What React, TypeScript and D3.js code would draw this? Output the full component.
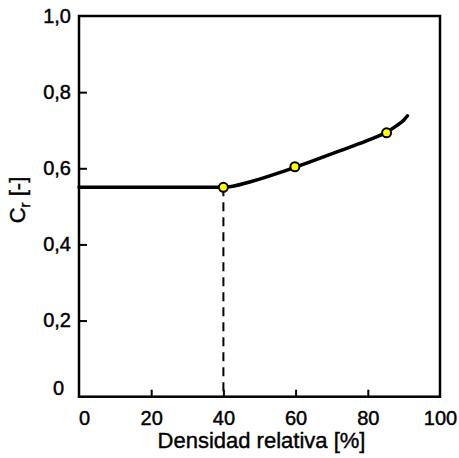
import React, { useRef, useEffect } from 'react';
import * as d3 from 'd3';

// fitted curve: flat part, then rising part
const curveX = [0, 40, 48, 56, 64, 72, 78, 82, 85.2, 88, 90, 91];
const curveY = [0.55, 0.55, 0.566, 0.59, 0.617, 0.645, 0.666, 0.681, 0.695, 0.712, 0.727, 0.738];
// measured points
const pointX = [40, 59.8, 85.2];
const pointY = [0.55, 0.604, 0.693];
const xTicks = [0, 20, 40, 60, 80, 100];
const yTicks = [0, 0.2, 0.4, 0.6, 0.8, 1.0];

const W = 459;
const H = 458;

const App = () => {
    const svgRef = useRef<SVGSVGElement>(null);

    useEffect(() => {
        const svg = d3.select(svgRef.current);
        svg.selectAll('*').remove();

        const x = d3.scaleLinear().domain([0, 100]).range([79, 440]);
        const y = d3.scaleLinear().domain([0, 1]).range([396.7, 16]);
        const font = 'Liberation Sans, Arial, sans-serif';

        /* frame */
        svg.append('rect')
            .attr('x', x(0)).attr('y', y(1))
            .attr('width', x(100) - x(0)).attr('height', y(0) - y(1))
            .attr('fill', 'none').attr('stroke', '#000').attr('stroke-width', 2.5);

        /* axes with inward ticks */
        const fmt = (d: number) => (d === 0 ? '0' : d3.format('.1f')(d).replace('.', ','));
        const xAxis = svg.append('g').attr('transform', `translate(0,${y(0)})`)
            .call(d3.axisBottom(x).tickValues(xTicks).tickSizeInner(-7).tickSizeOuter(0).tickPadding(14).tickFormat(d => String(d)));
        const yAxis = svg.append('g').attr('transform', `translate(${x(0)},0)`)
            .call(d3.axisLeft(y).tickValues(yTicks).tickSizeInner(-8).tickSizeOuter(0).tickPadding(8).tickFormat(d => fmt(+d)));
        [xAxis, yAxis].forEach(g => {
            g.select('.domain').remove();
            g.selectAll('line').attr('stroke', '#000').attr('stroke-width', 2);
            g.selectAll('text').attr('font-family', font).attr('font-size', 20).attr('fill', '#000')
                .attr('stroke', '#000').attr('stroke-width', 0.45);
        });
        xAxis.selectAll<SVGTextElement, number>('text').attr('dx', d => (d === 0 ? 5 : 0));
        yAxis.selectAll<SVGTextElement, number>('text')
            .attr('dx', d => (d === 0 ? -7 : 0))
            .attr('dy', d => (d === 0 ? '-0.1em' : '0.32em'));
        yAxis.selectAll<SVGLineElement, number>('line').attr('display', d => (d === 0 || d === 1 ? 'none' : null));
        xAxis.selectAll<SVGLineElement, number>('line').attr('display', d => (d === 0 || d === 100 ? 'none' : null));

        /* dashed drop line */
        svg.append('line')
            .attr('x1', x(pointX[0])).attr('x2', x(pointX[0]))
            .attr('y1', y(pointY[0])).attr('y2', y(0))
            .attr('stroke', '#000').attr('stroke-width', 2).attr('stroke-dasharray', '9,6');

        /* curve */
        const line = d3.line<number>()
            .x((_, i) => x(curveX[i]))
            .y(d => y(d))
            .curve(d3.curveMonotoneX);
        svg.append('path')
            .attr('d', line(curveY))
            .attr('fill', 'none').attr('stroke', '#000').attr('stroke-width', 3.5)
            .attr('stroke-linecap', 'round');

        /* points */
        svg.selectAll('.pt')
            .data(pointY)
            .join('circle')
            .attr('class', 'pt')
            .attr('cx', (_, i) => x(pointX[i]))
            .attr('cy', d => y(d))
            .attr('r', 4.5)
            .attr('fill', '#ffff00').attr('stroke', '#000').attr('stroke-width', 2);

        /* axis titles */
        svg.append('text')
            .attr('x', (x(0) + x(100)) / 2 + 2).attr('y', 448)
            .attr('text-anchor', 'middle')
            .attr('font-family', font).attr('font-size', 22)
            .attr('stroke', '#000').attr('stroke-width', 0.4)
            .text('Densidad relativa [%]');
        const yt = svg.append('text')
            .attr('transform', 'translate(25,200) rotate(-90)')
            .attr('text-anchor', 'middle')
            .attr('font-family', font).attr('font-size', 22)
            .attr('stroke', '#000').attr('stroke-width', 0.4);
        yt.append('tspan').text('C');
        yt.append('tspan').attr('font-size', 15).attr('dy', 5).text('r');
        yt.append('tspan').attr('dy', -5).text(' [-]');
    }, []);

    return (
        <svg ref={svgRef} width={W} height={H} style={{ position: 'absolute', left: 0, top: 0, background: '#fff' }} />
    );
};

export default App;
